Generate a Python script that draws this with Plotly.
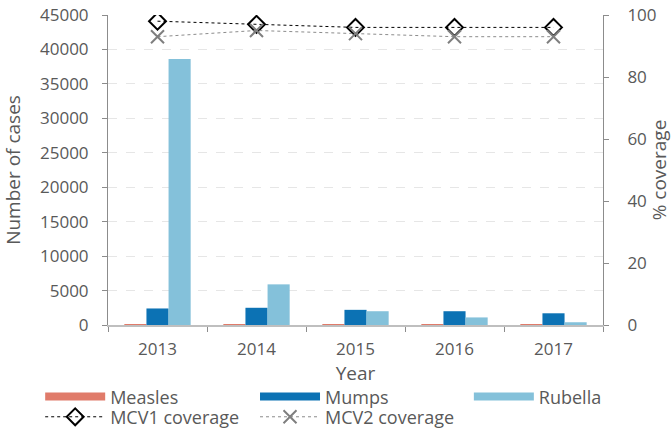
import plotly.graph_objects as go

years = ["2013", "2014", "2015", "2016", "2017"]
measles = [100, 80, 60, 90, 70]
mumps = [2400, 2500, 2200, 2000, 1700]
rubella = [38600, 5900, 2000, 1100, 400]
mcv1 = [98, 97, 96, 96, 96]
mcv2 = [93, 95, 94, 93, 93]

c_measles = "#E07B6A"
c_mumps = "#0C72B4"
c_rubella = "#84C1DA"
font_family = "Open Sans, Noto Sans, sans-serif"
txt = "#595959"

fig = go.Figure()
bar_specs = [("Measles", measles, c_measles, "legend"),
             ("Mumps", mumps, c_mumps, "legend2"),
             ("Rubella", rubella, c_rubella, "legend3")]
for name, vals, col, leg in bar_specs:
    fig.add_trace(go.Bar(x=years, y=vals, name=name, marker=dict(color=col, line=dict(width=0)),
                         showlegend=False, legendgroup=name))
    fig.add_trace(go.Scatter(x=[None], y=[None], mode="lines", name=name, legendgroup=name,
                             line=dict(color=col, width=8), showlegend=True, legend=leg))

fig.add_trace(go.Scatter(x=years, y=mcv1, name="MCV1 coverage", yaxis="y2", mode="lines+markers",
                         legend="legend4",
                         line=dict(color="#000000", width=1, dash="dot"),
                         marker=dict(symbol="diamond-open", size=13, color="#000000", line=dict(width=2))))
fig.add_trace(go.Scatter(x=years, y=mcv2, name="MCV2 coverage", yaxis="y2", mode="lines+markers",
                         legend="legend5",
                         line=dict(color="#8C8C8C", width=1, dash="dot"),
                         marker=dict(symbol="x-thin-open", size=13, color="#7F7F7F", line=dict(width=2, color="#7F7F7F"))))

leg_common = dict(orientation="h", xanchor="left", yanchor="middle", itemwidth=60,
                  font=dict(size=18, color=txt), bgcolor="rgba(0,0,0,0)")
row1, row2 = -0.232, -0.297
col1, col2, col3 = -0.137, 0.297, 0.729

fig.update_layout(
    width=672, height=431,
    margin=dict(l=108, r=69, t=15, b=106, autoexpand=False),
    paper_bgcolor="white", plot_bgcolor="white",
    font=dict(family=font_family, size=16, color=txt),
    barmode="group", bargap=0.33, bargroupgap=0,
    xaxis=dict(type="category", tickson="boundaries", ticks="outside", ticklen=5, tickcolor="#8C8C8C",
               showline=True, linecolor="#BFBFBF", linewidth=2, showgrid=False, automargin=False,
               ticklabelstandoff=8,
               title=dict(text="Year", standoff=5), tickfont=dict(size=17, color=txt)),
    yaxis=dict(range=[0, 45000], dtick=5000, tickformat="d", ticks="outside", ticklen=5, tickcolor="#8C8C8C",
               showline=True, linecolor="#8C8C8C", linewidth=1, automargin=False, ticklabelstandoff=10,
               showgrid=True, gridcolor="#E6E6E6", griddash="dash", zeroline=False,
               title=dict(text="Number of cases", standoff=18), tickfont=dict(size=17, color=txt)),
    yaxis2=dict(range=[0, 100], dtick=20, overlaying="y", side="right", ticks="outside", ticklen=5,
                tickcolor="#8C8C8C", showline=True, linecolor="#8C8C8C", linewidth=1, showgrid=False,
                zeroline=False, automargin=False, ticklabelstandoff=15,
                title=dict(text="% coverage", standoff=6), tickfont=dict(size=17, color=txt)),
    legend=dict(x=col1, y=row1, **leg_common),
    legend2=dict(x=col2, y=row1, **leg_common),
    legend3=dict(x=col3, y=row1, **leg_common),
    legend4=dict(x=col1, y=row2, **leg_common),
    legend5=dict(x=col2, y=row2, **leg_common),
)

fig.write_html("out.html", config={"displayModeBar": False},
               post_script="document.body.style.margin='0';")
